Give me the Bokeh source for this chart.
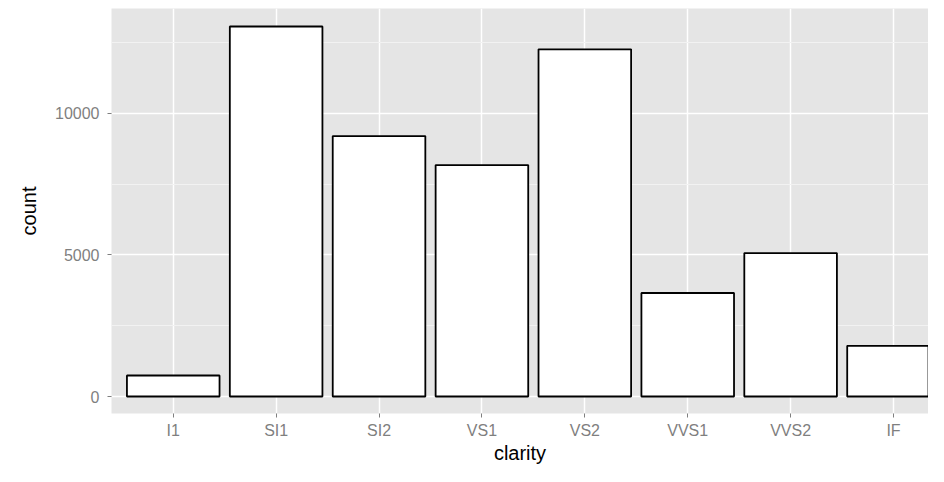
from bokeh.plotting import figure
from bokeh.models import Range1d, FixedTicker, ColumnDataSource
from bokeh.embed import file_html
from bokeh.resources import INLINE

clarity = ["I1", "SI1", "SI2", "VS1", "VS2", "VVS1", "VVS2", "IF"]
counts = [741, 13065, 9194, 8171, 12258, 3655, 5066, 1790]
y_ticks = [0, 5000, 10000]
y_minor = [2500, 7500, 12500]

xpos = list(range(1, len(clarity) + 1))
src = ColumnDataSource(dict(x=xpos, top=counts, name=clarity))

p = figure(width=928, height=466, x_range=Range1d(0.4, 8.34), y_range=Range1d(-600, 13700),
           output_backend="svg", toolbar_location=None,
           min_border_left=111, min_border_right=0, min_border_top=8, min_border_bottom=52)
p.outline_line_color = None
p.background_fill_color = "#E5E5E5"
p.border_fill_color = "white"

p.vbar(x="x", top="top", bottom=0, width=0.9, source=src,
       fill_color="white", line_color="black", line_width=1.8)

font = "Liberation Sans"
p.xaxis.ticker = FixedTicker(ticks=xpos)
p.xaxis.major_label_overrides = {i: c for i, c in zip(xpos, clarity)}
p.yaxis.ticker = FixedTicker(ticks=y_ticks, minor_ticks=y_minor)
p.xgrid.ticker = FixedTicker(ticks=xpos)
p.ygrid.ticker = FixedTicker(ticks=y_ticks, minor_ticks=y_minor)

for g in (p.xgrid, p.ygrid):
    g.grid_line_color = "white"
    g.grid_line_width = 1.5
p.ygrid.minor_grid_line_color = "#F2F2F2"
p.ygrid.minor_grid_line_width = 1

p.xaxis.axis_label = "clarity"
p.yaxis.axis_label = "count"
for ax in (p.xaxis, p.yaxis):
    ax.axis_line_color = None
    ax.major_tick_line_color = "#7F7F7F"
    ax.major_tick_in = 0
    ax.major_tick_out = 4
    ax.minor_tick_out = 0
    ax.minor_tick_in = 0
    ax.minor_tick_line_color = None
    ax.major_label_text_color = "#7F7F7F"
    ax.major_label_text_font = font
    ax.major_label_text_font_size = "16px"
    ax.axis_label_text_font = font
    ax.axis_label_text_font_size = "20px"
    ax.axis_label_text_font_style = "normal"
    ax.axis_label_text_color = "black"
p.xaxis.major_label_standoff = 4
p.yaxis.major_label_standoff = 8
p.xaxis.axis_label_standoff = 0
p.yaxis.axis_label_standoff = 12

open("out.html", "w").write(file_html(p, INLINE))
